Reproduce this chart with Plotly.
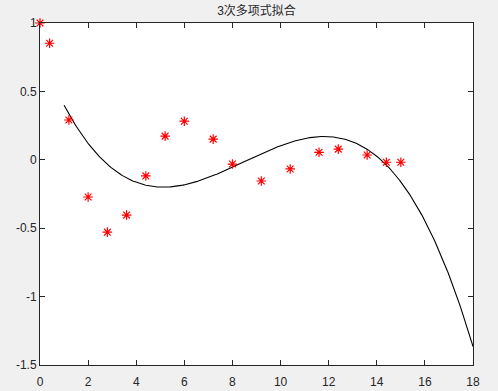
import numpy as np
import plotly.graph_objects as go

# scatter data (red asterisks)
x_data = [0, 0.4, 1.2, 2.0, 2.8, 3.6, 4.4, 5.2, 6.0, 7.2, 8.0, 9.2, 10.4, 11.6, 12.4, 13.6, 14.4, 15.0]
y_data = [1.0, 0.852, 0.291, -0.272, -0.529, -0.404, -0.118, 0.173, 0.282, 0.151, -0.031, -0.155, -0.067, 0.055, 0.078, 0.035, -0.018, -0.018]

# cubic fit coefficients (highest power first), curve drawn over [1, 18]
fit_coef = [-0.002478, 0.063008, -0.450968, 0.789775]
fit_range = [1, 18]

x_ticks = [0, 2, 4, 6, 8, 10, 12, 14, 16, 18]
y_ticks = [-1.5, -1, -0.5, 0, 0.5, 1]
y_ticktext = ["-1.5", "-1", "-0.5", "0", "0.5", "1"]

title_text = "3次多项式拟合"

xf = np.linspace(fit_range[0], fit_range[1], 400)
yf = np.polyval(fit_coef, xf)

fig = go.Figure()
fig.add_trace(go.Scatter(x=xf, y=yf, mode="lines",
                         line=dict(color="black", width=1.1),
                         showlegend=False, hoverinfo="skip"))
fig.add_trace(go.Scatter(x=x_data, y=y_data, mode="markers",
                         marker=dict(symbol="asterisk-open", size=8,
                                     line=dict(color="#ff0000", width=1.2),
                                     color="#ff0000"),
                         cliponaxis=False, showlegend=False))

font_fam = "Liberation Sans, Arial, Noto Sans CJK SC, sans-serif"
axis_common = dict(showgrid=False, zeroline=False, showline=True,
                   linecolor="#262626", linewidth=1, mirror="ticks",
                   ticks="inside", ticklen=5, tickcolor="#262626",
                   automargin=False,
                   tickfont=dict(family=font_fam, size=12, color="#262626"))

fig.update_xaxes(range=[0, 18], tickvals=x_ticks,
                 ticktext=[str(v) for v in x_ticks], ticklabelstandoff=6,
                 **axis_common)
fig.update_yaxes(range=[-1.5, 1], tickvals=y_ticks, ticktext=y_ticktext,
                 **axis_common)

fig.update_layout(
    width=498, height=391,
    margin=dict(l=40, r=25, t=23, b=26, autoexpand=False),
    paper_bgcolor="#f0f0f0", plot_bgcolor="white",
    title=dict(text=title_text, x=0.515, xanchor="center", y=0.972, yanchor="middle",
               font=dict(family="Liberation Sans, Noto Sans CJK SC, sans-serif",
                         size=12, color="#262626")),
)

fig.write_html("out.html")
